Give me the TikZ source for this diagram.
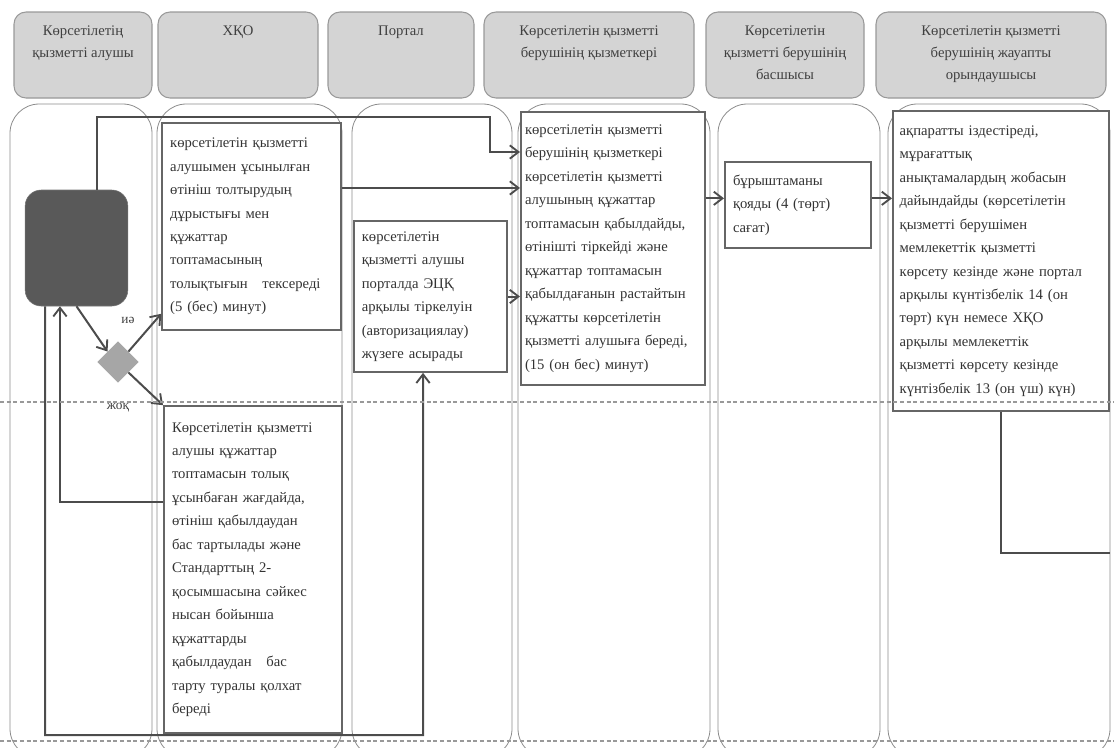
\documentclass[tikz,border=0pt]{standalone}
\usepackage{fontspec}
\setmainfont{Liberation Serif}
\usetikzlibrary{shapes.geometric,arrows.meta}

\begin{document}
\begin{tikzpicture}[x=0.75pt,y=-0.75pt,
        >={Straight Barb[length=6.5pt,width=10pt,line width=1.4pt]},
        head/.style={draw=black!40, fill=black!17, rounded corners=9pt, line width=0.8pt, inner sep=6pt,
            text=black!75, font=\fontsize{11pt}{16.5pt}\selectfont,
            execute at begin node={\begin{minipage}[c][52.5pt][t]{#1}\vspace*{4.5pt}\centering},
            execute at end node={\end{minipage}}},
        lane/.style={draw=black!45, line width=0.6pt, rounded corners=22pt},
        task/.style={draw=black!60, line width=1.5pt, fill=white, inner xsep=6pt, inner ysep=3pt,
            align=left, text=black!80, font=\fontsize{11pt}{17.6pt}\selectfont},
        flow/.style={draw=black!70, line width=1.5pt},
        tag/.style={text=black!75, font=\fontsize{10pt}{12pt}\selectfont}]

        \useasboundingbox (0,0) rectangle (1114,747);
        \clip (0,0) rectangle (1114,747);

        % Lanes
        \draw[lane] (10,104) rectangle (152,758);
        \draw[lane] (157,104) rectangle (342,758);
        \draw[lane] (352,104) rectangle (512,758);
        \draw[lane] (518,104) rectangle (710,758);
        \draw[lane] (718,104) rectangle (880,758);
        \draw[lane] (888,104) rectangle (1110,758);

        % Headers
        \node[head=91.5pt] (hAlushy) at (83,55) {Көрсетілетің\\қызметті алушы};
        \node[head=108pt] (hXqo) at (238,55) {ХҚО};
        \node[head=97.5pt] (hPortal) at (401,55) {Портал};
        \node[head=145.5pt] (hQyzm) at (589,55) {Көрсетілетін қызметті\\берушінің қызметкері};
        \node[head=106.5pt] (hBasshy) at (785,55) {Көрсетілетін\\қызметті берушінің\\басшысы};
        \node[head=160.5pt] (hOryn) at (991,55) {Көрсетілетін қызметті\\берушінің жауапты\\орындаушысы};

        % Service recipient
        \node[fill=black!65, draw=black!55, rounded corners=12pt, minimum width=77pt, minimum height=87pt] (start) at (76.5,248) {};
        \node[diamond, fill=black!35, inner sep=0pt, minimum width=31pt, minimum height=31pt] (dec) at (118,362) {};
        \node[tag] (yes) at (128,320) {иә};
        \node[tag] (no) at (118,408) {жоқ};

        % XQO
        \node[task, minimum width=134pt, minimum height=155pt, text width=122pt] (xqo1) at (251.5,226.5)
            {көрсетілетін қызметті\\алушымен ұсынылған\\өтініш толтырудың\\дұрыстығы мен\\құжаттар\\топтамасының\\толықтығын\quad тексереді\\(5 (бес) минут)};
        \node[task, minimum width=133.5pt, minimum height=245pt, text width=121.5pt] (xqo2) at (253,569.5)
            {Көрсетілетін қызметті\\алушы құжаттар\\топтамасын толық\\ұсынбаған жағдайда,\\өтініш қабылдаудан\\бас тартылады және\\Стандарттың 2-\\қосымшасына сәйкес\\нысан бойынша\\құжаттарды\\қабылдаудан\quad бас\\тарту туралы қолхат\\береді};

        % Portal
        \node[task, minimum width=115pt, minimum height=113pt, text width=103pt] (portal) at (430.5,296.5)
            {көрсетілетін\\қызметті алушы\\порталда ЭЦҚ\\арқылы тіркелуін\\(авторизациялау)\\жүзеге асырады};

        % Employee
        \node[task, inner xsep=3pt, minimum width=138pt, minimum height=205pt, text width=132pt] (qyzm) at (613,248.5)
            {көрсетілетін қызметті\\берушінің қызметкері\\көрсетілетін қызметті\\алушының құжаттар\\топтамасын қабылдайды,\\өтінішті тіркейді және\\құжаттар топтамасын\\қабылдағанын растайтын\\құжатты көрсетілетін\\қызметті алушыға береді,\\(15 (он бес) минут)};

        % Head
        \node[task, minimum width=109.5pt, minimum height=64.5pt, text width=97.5pt] (basshy) at (798,205)
            {бұрыштаманы\\қояды (4 (төрт)\\сағат)};

        % Executor
        \node[task, inner xsep=5pt, minimum width=162pt, minimum height=225pt, text width=152pt] (oryn) at (1001,261)
            {ақпаратты іздестіреді,\\мұрағаттық\\анықтамалардың жобасын\\дайындайды (көрсетілетін\\қызметті берушімен\\мемлекеттік қызметті\\көрсету кезінде және портал\\арқылы күнтізбелік 14 (он\\төрт) күн немесе ХҚО\\арқылы мемлекеттік\\қызметті көрсету кезінде\\күнтізбелік 13 (он үш) күн)};

        % Connectors
        \coordinate (hop1) at (490,117);
        \coordinate (hop2) at (490,152);
        \draw[flow,->] ([xshift=15.4pt]start.north) |- (hop1) -- (hop2) -- (hop2 -| qyzm.west);
        \draw[flow,->] ([yshift=28.9pt]xqo1.east) -- ([yshift=28.9pt]xqo1.east -| qyzm.west);
        \draw[flow,->] (portal.east) -- (portal.east -| qyzm.west);
        \coordinate (b5) at ([yshift=5pt]basshy.west);
        \draw[flow,->] (qyzm.east |- b5) -- (b5);
        \draw[flow,->] ([yshift=5pt]basshy.east) -- ([yshift=5pt]basshy.east -| oryn.west);
        \coordinate (out6) at (1110,553);
        \draw[flow] (oryn.south) |- (out6);

        \draw[flow,->] (start.south) -- (dec.north west);
        \draw[flow,->] (dec.north east) -- ([yshift=12.75pt]xqo1.south west);
        \draw[flow,->] (dec.south east) -- (xqo2.north west);
        \draw[flow,->] ([yshift=50.6pt]xqo2.west) -| ([xshift=-12.4pt]start.south);
        \coordinate (hop4) at (423,735);
        \draw[flow,->] ([xshift=-23.6pt]start.south) |- (hop4) -- ([xshift=-5.6pt]portal.south);

        % Dashed separators
        \draw[black!40, line width=0.8pt, dash pattern=on 3pt off 2pt] (0,402) -- (1114,402);
        \draw[black!40, line width=0.8pt, dash pattern=on 3pt off 2pt] (0,741) -- (1114,741);
    \end{tikzpicture}
\end{document}
